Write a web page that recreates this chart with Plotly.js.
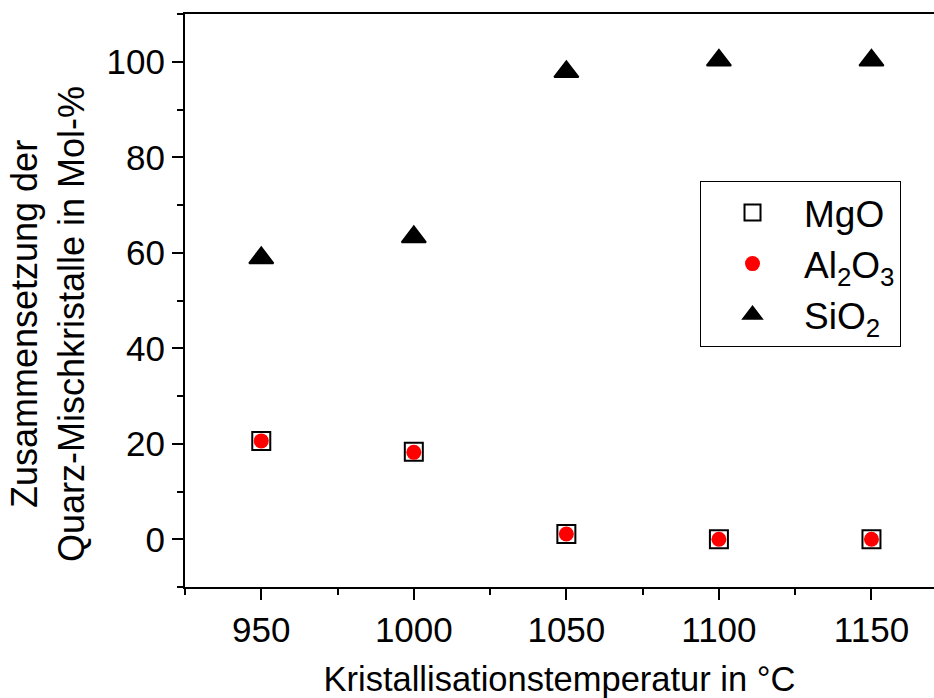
<!DOCTYPE html>
<html>
<head>
<meta charset="utf-8">
<script src="https://cdn.plot.ly/plotly-3.0.1.min.js"></script>
<style>html,body{margin:0;padding:0;background:#fff;}#chart{width:934px;height:698px;}</style>
</head>
<body>
<div id="chart"></div>
<script>
const temperatures = [950, 1000, 1050, 1100, 1150];
const mgo = [20.6, 18.3, 1.1, 0.0, 0.0];
const al2o3 = [20.6, 18.2, 1.1, 0.0, 0.0];
const sio2 = [58.9, 63.3, 97.9, 100.3, 100.3];
const seriesNames = ["MgO", "Al<sub>2</sub>O<sub>3</sub>", "SiO<sub>2</sub>"];
const xTitle = "Kristallisationstemperatur in °C";
const yTitle = "Zusammensetzung der<br>Quarz-Mischkristalle in Mol-%";

const FONT = "Arial, 'Liberation Sans', sans-serif";

const traces = [
  {x: temperatures, y: mgo, name: seriesNames[0], type: "scatter", mode: "markers",
   marker: {symbol: "square", size: 18, color: "#ffffff", line: {color: "#000000", width: 2}}},
  {x: temperatures, y: al2o3, name: seriesNames[1], type: "scatter", mode: "markers",
   marker: {symbol: "circle", size: 15, color: "#ff0000", line: {width: 0}}},
  {x: temperatures, y: sio2, name: seriesNames[2], type: "scatter", mode: "markers",
   marker: {symbol: "triangle-up", size: 21, color: "#000000", line: {color: "#000000", width: 2}}}
];

const layout = {
  width: 934, height: 698,
  margin: {l: 185, r: 0, t: 14, b: 111, pad: 0},
  paper_bgcolor: "#ffffff", plot_bgcolor: "#ffffff",
  font: {family: FONT, size: 35, color: "#000000"},
  showlegend: true,
  legend: {
    x: 0.6876, y: 0.7086, xanchor: "left", yanchor: "top",
    bgcolor: "#ffffff", bordercolor: "#000000", borderwidth: 1,
    font: {family: FONT, size: 37, color: "#000000"},
    itemwidth: 93, tracegroupgap: 0
  },
  xaxis: {
    range: [925, 1170.5], showgrid: false, zeroline: false,
    showline: true, linecolor: "#000000", linewidth: 2, mirror: true,
    ticks: "outside", tickmode: "linear", tick0: 950, dtick: 50,
    ticklen: 11, tickwidth: 2, tickcolor: "#000000",
    tickfont: {family: FONT, size: 35, color: "#000000"},
    minor: {ticks: "outside", tick0: 925, dtick: 50, ticklen: 6, tickwidth: 2, tickcolor: "#000000", showgrid: false},
    title: {text: xTitle, font: {family: FONT, size: 34.5, color: "#000000"}, standoff: 20}
  },
  yaxis: {
    range: [-10, 110], showgrid: false, zeroline: false,
    showline: true, linecolor: "#000000", linewidth: 2, mirror: false,
    ticks: "outside", tickmode: "linear", tick0: 0, dtick: 20,
    ticklen: 11, tickwidth: 2, tickcolor: "#000000",
    tickfont: {family: FONT, size: 35, color: "#000000"},
    minor: {ticks: "outside", tick0: 0, dtick: 10, ticklen: 6, tickwidth: 2, tickcolor: "#000000", showgrid: false}
  },
  annotations: [{
    text: yTitle, xref: "paper", yref: "paper",
    x: -0.1829, y: 0.459, xanchor: "center", yanchor: "middle",
    textangle: -90, showarrow: false, align: "center",
    font: {family: FONT, size: 36, color: "#000000"}
  }]
};

Plotly.newPlot("chart", traces, layout, {displayModeBar: false, staticPlot: true});
</script>
</body>
</html>
